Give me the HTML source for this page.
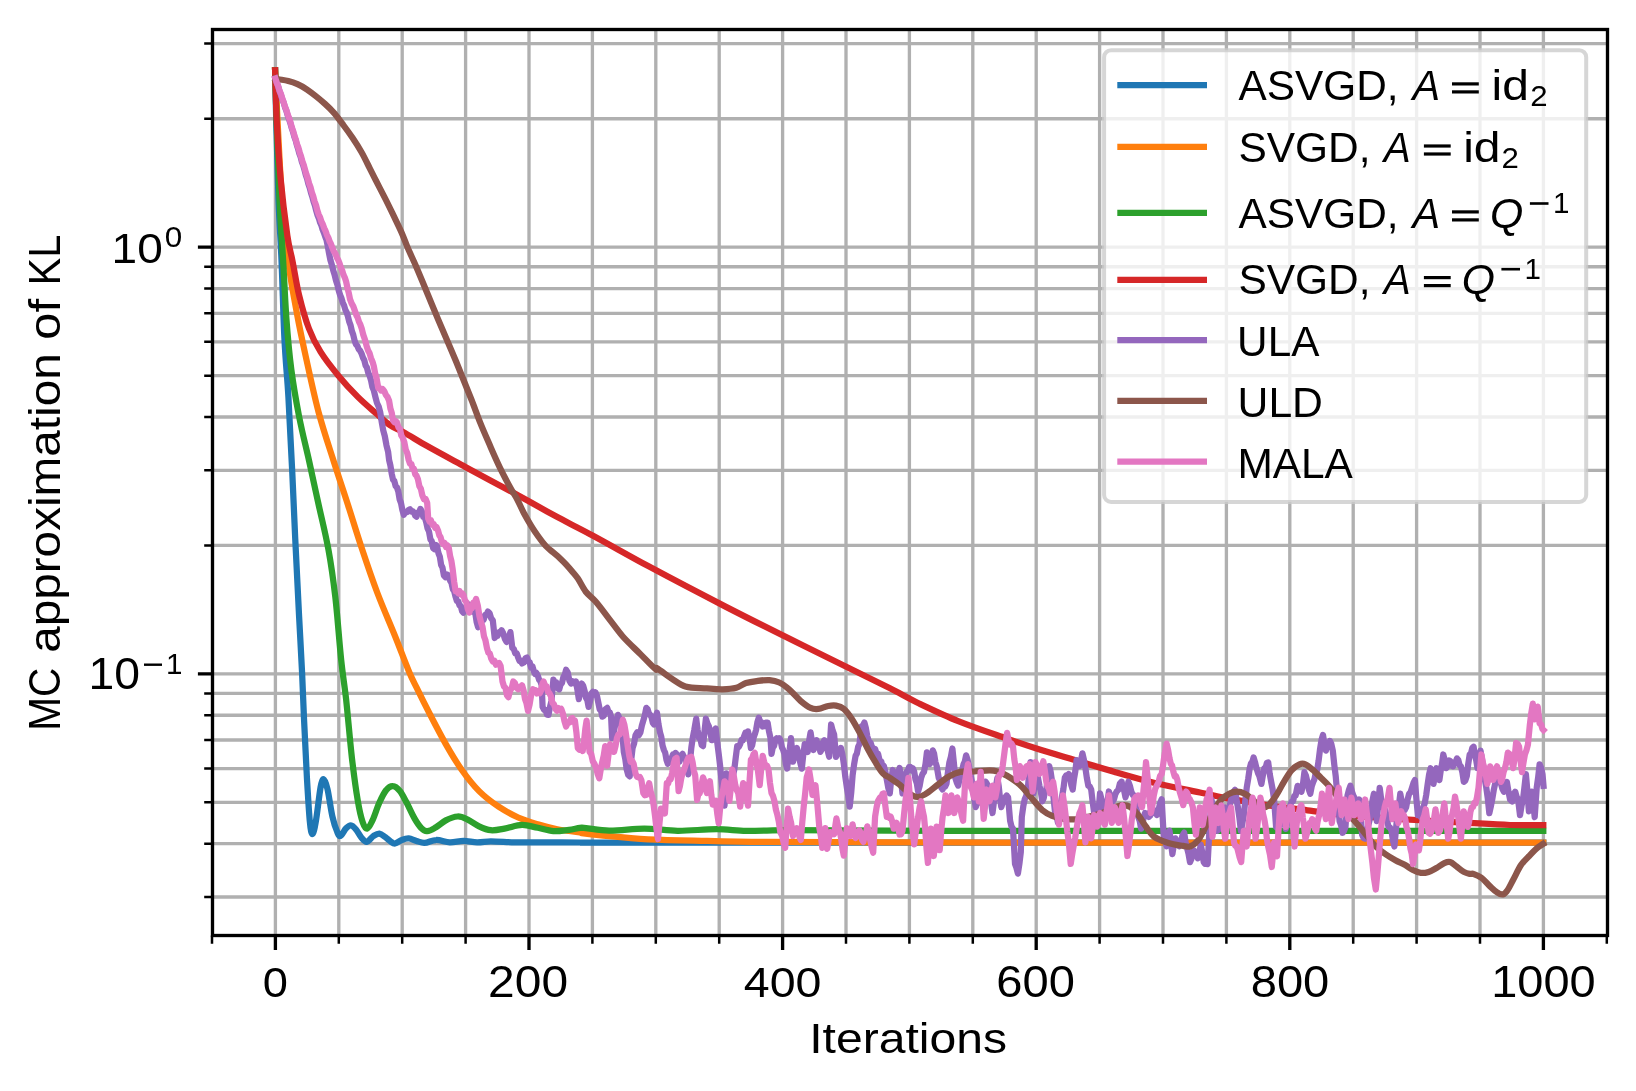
<!DOCTYPE html>
<html><head><meta charset="utf-8"><title>KL convergence</title>
<style>html,body{margin:0;padding:0;background:#fff}svg{display:block;will-change:transform}text{font-family:"Liberation Sans",sans-serif;fill:#000}</style></head><body>
<svg width="1636" height="1091" viewBox="0 0 1636 1091">
<rect width="1636" height="1091" fill="#fff"/>
<clipPath id="ax"><rect x="212.5" y="29.5" width="1395.0" height="906.0"/></clipPath>
<path d="M275.40 29.5V935.5M338.80 29.5V935.5M402.20 29.5V935.5M465.60 29.5V935.5M529.00 29.5V935.5M592.40 29.5V935.5M655.80 29.5V935.5M719.20 29.5V935.5M782.60 29.5V935.5M846.00 29.5V935.5M909.40 29.5V935.5M972.80 29.5V935.5M1036.20 29.5V935.5M1099.60 29.5V935.5M1163.00 29.5V935.5M1226.40 29.5V935.5M1289.80 29.5V935.5M1353.20 29.5V935.5M1416.60 29.5V935.5M1480.00 29.5V935.5M1543.40 29.5V935.5M212.5 43.61H1607.5M212.5 118.75H1607.5M212.5 247.20H1607.5M212.5 266.72H1607.5M212.5 288.55H1607.5M212.5 313.30H1607.5M212.5 341.86H1607.5M212.5 375.65H1607.5M212.5 417.00H1607.5M212.5 470.31H1607.5M212.5 545.45H1607.5M212.5 673.90H1607.5M212.5 693.42H1607.5M212.5 715.25H1607.5M212.5 740.00H1607.5M212.5 768.56H1607.5M212.5 802.35H1607.5M212.5 843.70H1607.5M212.5 897.01H1607.5" stroke="#b0b0b0" stroke-width="3.33" fill="none"/>
<g clip-path="url(#ax)" fill="none" stroke-width="6.25" stroke-linejoin="round" stroke-linecap="square">
<path d="M275.1 70.3C275.5 86.9 275.8 106.0 276.2 120.0C277.0 149.2 277.7 179.7 278.5 200.0C279.5 226.4 280.5 236.6 281.5 260.0C282.5 282.6 283.4 319.0 284.4 338.2C285.7 364.7 287.1 374.1 288.4 396.9C289.7 419.1 291.0 446.0 292.3 473.0C293.3 493.1 294.2 517.8 295.2 538.2C296.5 565.6 297.8 591.1 299.1 616.5C300.1 636.0 301.1 652.2 302.1 673.0C302.7 686.2 303.4 705.0 304.0 718.7C305.0 739.8 306.0 760.1 306.9 777.4C307.9 794.6 308.9 812.2 309.9 822.3C310.7 831.1 311.6 834.1 312.4 834.1C313.5 834.1 314.6 828.7 315.7 822.3C317.4 813.0 319.0 796.1 320.6 787.1C321.6 781.8 322.6 779.0 323.6 779.3C324.9 779.7 326.2 783.6 327.5 789.1C329.1 796.0 330.7 809.3 332.4 816.5C334.0 823.7 335.6 828.1 337.3 832.1C338.2 834.6 339.2 836.5 340.2 836.0C342.2 835.2 344.1 830.2 346.1 828.2C347.7 826.6 349.3 825.1 351.0 825.3C352.6 825.4 354.2 827.3 355.8 829.2C357.8 831.5 359.8 835.7 361.7 838.0C363.3 839.9 365.0 842.2 366.6 841.9C368.9 841.5 371.2 837.5 373.4 836.0C375.4 834.8 377.4 833.5 379.3 833.7C381.3 833.9 383.2 835.6 385.2 837.0C387.1 838.4 389.1 840.6 391.1 841.9C392.4 842.8 393.7 843.7 395.0 843.5C397.2 843.1 399.5 840.8 401.8 840.0C404.1 839.1 406.4 838.2 408.7 838.4C411.3 838.6 413.9 840.2 416.5 840.9C419.1 841.7 421.7 843.0 424.3 842.9C428.2 842.7 432.1 840.0 436.0 840.0C440.6 839.8 445.2 842.1 449.7 842.3C454.3 842.5 458.9 840.9 463.4 840.9C468.0 840.9 472.6 842.2 477.1 842.3C481.7 842.4 486.2 841.3 490.8 841.3C498.6 841.3 506.5 842.2 514.3 842.3C536.2 842.6 558.1 842.4 580.0 842.5C620.0 842.6 660.0 842.7 700.0 842.7C981.1 842.8 1262.2 842.7 1543.3 842.7" stroke="#1f77b4"/>
<path d="M275.1 70.3C275.9 86.9 276.7 105.0 277.5 120.0C279.0 148.2 280.5 180.0 282.0 200.0C284.0 226.7 286.0 244.9 288.0 260.0C291.1 283.2 294.1 298.3 297.2 314.8C300.4 332.2 303.7 347.0 306.9 361.7C310.8 379.6 314.8 398.0 318.7 412.6C323.6 430.7 328.4 444.7 333.3 460.0C338.2 475.5 343.1 489.8 348.0 505.0C352.6 519.2 357.1 534.3 361.7 548.0C366.9 563.7 372.2 579.2 377.4 593.0C383.3 608.5 389.1 621.4 395.0 636.0C399.9 648.1 404.7 661.4 409.6 673.0C411.9 678.5 414.2 682.7 416.5 687.4C421.0 696.7 425.6 705.9 430.2 714.8C435.4 724.9 440.6 735.0 445.8 744.1C451.0 753.2 456.3 762.2 461.5 769.5C467.3 777.8 473.2 785.2 479.1 791.1C485.6 797.6 492.1 802.3 498.6 806.7C505.2 811.1 511.7 814.5 518.2 817.5C524.7 820.4 531.2 822.3 537.8 824.3C544.3 826.3 550.8 827.9 557.3 829.2C564.9 830.7 572.4 831.3 580.0 832.5C580.6 832.6 581.2 833.0 581.7 833.1C590.9 834.3 600.0 835.4 609.1 836.2C622.2 837.5 635.2 838.7 648.2 839.4C667.8 840.3 687.4 840.5 706.9 840.9C726.5 841.4 746.0 841.8 765.6 841.9C807.1 842.2 848.5 842.2 890.0 842.3C926.7 842.4 963.3 842.5 1000.0 842.5C1181.1 842.6 1362.2 842.6 1543.3 842.6" stroke="#ff7f0e"/>
<path d="M275.1 70.3C275.6 86.9 276.1 105.3 276.6 120.0C277.6 148.5 278.5 179.2 279.5 200.0C280.7 225.8 281.9 239.4 283.1 260.0C284.2 278.9 285.3 304.0 286.4 318.7C288.0 340.5 289.7 356.9 291.3 369.5C293.9 389.5 296.5 403.1 299.1 416.5C302.4 433.3 305.6 445.3 308.9 460.0C312.2 474.8 315.4 490.0 318.7 505.0C322.0 520.0 325.2 531.9 328.5 550.0C330.8 562.5 333.0 577.3 335.3 596.9C337.3 613.9 339.2 641.3 341.2 660.0C342.8 675.4 344.4 684.3 346.1 699.1C348.0 716.9 350.0 740.8 351.9 757.8C353.9 774.8 355.8 789.1 357.8 800.8C359.4 810.6 361.1 817.5 362.7 822.3C364.2 826.8 365.7 828.9 367.2 828.6C368.9 828.3 370.7 824.1 372.5 820.4C374.8 815.5 377.0 807.8 379.3 802.8C381.6 797.7 383.9 792.8 386.2 790.1C388.4 787.3 390.7 786.0 393.0 786.2C395.3 786.3 397.6 788.3 399.9 791.1C402.1 793.8 404.4 798.5 406.7 802.8C409.3 807.7 411.9 813.9 414.5 818.4C416.8 822.4 419.1 825.9 421.4 828.2C423.3 830.2 425.3 831.3 427.2 831.1C430.2 831.0 433.1 828.9 436.0 827.2C439.3 825.3 442.6 822.0 445.8 820.4C449.7 818.4 453.6 816.7 457.6 816.5C460.8 816.3 464.1 817.9 467.3 819.4C471.2 821.2 475.2 824.5 479.1 826.3C483.0 828.1 486.9 829.8 490.8 830.2C495.4 830.6 499.9 829.4 504.5 828.6C510.4 827.6 516.2 825.0 522.1 824.9C527.3 824.8 532.5 826.8 537.8 827.8C543.0 828.9 548.2 830.8 553.4 831.1C558.6 831.5 563.8 830.4 569.0 829.8C572.7 829.3 576.3 828.4 580.0 827.8C580.6 827.7 581.2 827.6 581.7 827.6C590.9 828.5 600.0 830.4 609.1 830.6C620.9 830.7 632.6 828.6 644.3 828.6C655.4 828.6 666.5 830.7 677.6 830.8C690.6 830.9 703.7 829.2 716.7 829.2C726.5 829.2 736.3 830.6 746.0 830.8C759.1 830.9 772.1 830.2 785.2 830.2C820.1 830.1 855.1 830.4 890.0 830.6C926.7 830.7 963.3 830.9 1000.0 830.9C1181.1 831.0 1362.2 830.8 1543.3 830.8" stroke="#2ca02c"/>
<path d="M275.1 70.3C275.6 86.4 276.1 108.8 276.6 118.7C277.9 144.5 279.2 163.3 280.5 177.4C282.8 202.4 285.1 219.9 287.4 236.0C289.0 247.4 290.7 251.7 292.3 260.0C294.6 271.5 296.8 285.8 299.1 295.2C302.4 308.7 305.6 319.9 308.9 328.5C312.8 338.8 316.7 345.7 320.6 351.9C326.5 361.3 332.3 368.3 338.2 375.4C344.7 383.3 351.3 390.4 357.8 396.9C364.3 403.4 370.9 408.8 377.4 414.5C381.6 418.2 385.8 422.3 390.0 425.2C394.2 428.1 398.4 429.2 402.6 431.6C410.6 436.1 418.7 441.3 426.7 445.8C439.6 453.1 452.5 459.9 465.4 466.9C473.9 471.5 482.4 476.1 490.9 480.7C500.1 485.6 509.2 490.4 518.4 495.4C522.0 497.4 525.7 499.5 529.3 501.5C537.9 506.3 546.4 511.1 555.0 515.8C560.0 518.5 565.0 521.1 570.0 523.7C577.5 527.6 585.1 531.4 592.6 535.5C611.1 545.5 629.7 556.2 648.2 566.1C674.3 580.1 700.4 593.7 726.5 607.1C752.6 620.5 778.6 633.4 804.7 646.3C833.1 660.4 861.6 674.1 890.0 688.3C899.7 693.2 909.4 698.8 919.1 703.5C932.2 709.7 945.2 715.9 958.2 721.1C974.5 727.6 990.8 733.0 1007.1 738.7C1016.9 742.1 1026.7 745.4 1036.5 748.5C1049.5 752.6 1062.6 756.3 1075.6 760.2C1088.6 764.1 1101.7 768.2 1114.7 771.9C1127.8 775.7 1140.8 779.5 1153.8 782.7C1169.2 786.4 1184.6 789.2 1200.0 792.5C1209.7 794.5 1219.4 796.7 1229.1 798.6C1242.2 801.0 1255.2 803.4 1268.2 805.4C1281.3 807.4 1294.3 808.7 1307.4 810.3C1320.4 811.9 1333.4 813.9 1346.5 815.2C1359.5 816.5 1372.6 817.2 1385.6 818.1C1398.6 819.0 1411.7 819.7 1424.7 820.5C1437.8 821.2 1450.8 821.9 1463.8 822.6C1479.2 823.4 1494.6 824.5 1510.0 825.0C1521.1 825.3 1532.2 825.0 1543.3 825.0" stroke="#d62728"/>
<path d="M275.4 78.5L276.8 82.8L278.1 86.4L279.5 91.0L280.8 94.5L282.2 99.1L283.6 102.5L284.9 107.0L286.3 110.6L287.6 115.1L289.0 119.0L290.3 122.9L291.6 127.7L292.9 131.5L294.2 136.3L295.5 139.8L296.8 144.7L298.0 148.5L299.3 153.4L300.6 156.8L301.9 161.9L303.2 165.4L304.5 170.0L305.8 175.0L307.1 178.8L308.4 184.0L309.7 187.7L311.0 192.7L312.3 196.8L313.6 201.8L314.9 205.6L316.2 210.7L317.5 215.0L318.8 218.2L320.1 222.5L321.4 225.4L322.6 229.6L323.9 232.7L325.2 236.6L326.5 240.0L327.8 246.4L329.1 253.7L330.4 260.0L331.8 264.7L333.2 270.3L334.6 274.7L336.0 280.5L337.4 284.8L338.8 290.7L340.2 295.2L341.5 298.3L342.8 302.7L344.1 305.5L345.4 310.0L346.7 312.5L348.0 316.7L349.3 321.9L350.6 325.4L351.9 331.2L353.2 334.6L354.5 340.1L355.8 344.1L357.3 345.8L358.8 349.4L360.2 350.8L361.7 353.9L363.0 357.8L364.3 360.3L365.6 365.5L366.9 367.5L368.2 372.8L369.5 375.4L371.0 380.2L372.4 387.0L373.9 390.7L375.4 396.9L377.0 403.0L378.7 406.6L380.3 412.6L381.8 422.5L383.2 430.2L384.8 436.1L386.5 445.4L388.1 451.7L389.1 460.0L390.4 465.4L391.7 473.6L393.0 479.6L394.3 481.0L395.6 485.9L396.9 487.4L398.3 491.4L399.7 499.7L401.0 503.0L402.4 510.2L403.8 514.8L405.4 511.9L407.0 512.1L408.7 509.9L410.0 509.2L411.3 511.6L412.6 511.2L413.9 512.3L415.2 515.6L416.5 516.7L417.8 512.6L419.1 512.3L420.4 508.9L421.9 511.4L423.3 516.9L424.8 517.4L426.3 522.6L427.6 528.5L429.0 531.5L430.4 539.3L431.7 541.1L433.1 548.0L434.4 549.1L435.7 544.9L437.0 546.1L438.4 553.0L439.8 556.6L441.1 564.8L442.5 567.7L443.9 575.4L445.5 577.3L447.1 574.5L448.8 575.4L450.1 580.6L451.5 583.0L452.9 589.3L454.2 591.3L455.6 596.9L456.9 601.0L458.2 601.1L459.5 605.4L460.8 606.1L462.1 611.1L463.4 612.6L464.7 608.5L466.0 609.3L467.3 604.7L468.6 604.4L469.9 608.7L471.2 607.2L472.6 611.5L473.9 610.5L475.2 612.6L476.6 621.8L478.1 627.2L479.5 623.3L480.9 624.6L482.3 618.8L483.7 619.5L485.1 614.8L486.5 614.7L487.9 611.6L489.5 613.0L491.1 618.2L492.8 620.4L494.7 638.0L496.1 635.6L497.5 635.8L498.8 632.4L500.2 632.9L501.6 630.2L503.2 633.3L504.8 638.7L506.5 641.9L507.8 637.8L509.1 636.2L510.4 632.1L512.3 647.8L513.8 649.0L515.3 653.4L516.7 653.3L518.2 657.6L519.5 661.0L520.8 660.6L522.1 663.4L523.7 662.5L525.4 658.4L527.0 657.6L528.4 661.5L529.7 662.2L531.1 667.6L532.5 666.5L533.8 671.2L535.1 674.0L536.4 672.9L537.8 675.6L539.1 679.7L540.4 681.3L541.7 685.4L542.6 706.9L544.1 710.0L545.6 709.8L547.0 714.6L548.5 714.8L550.0 707.0L551.4 701.1L553.4 679.6L554.9 682.7L556.3 682.5L557.8 688.3L559.3 689.3L560.6 684.5L562.0 682.9L563.4 676.9L564.7 675.1L566.1 669.8L567.7 672.4L569.4 680.7L571.0 683.5L572.6 681.2L574.2 683.2L575.9 681.5L577.3 689.1L578.8 699.1L580.3 692.2L581.7 683.5L583.2 685.7L584.7 691.3L586.0 697.9L587.3 700.0L588.6 706.9L590.0 701.2L591.5 693.3L592.8 691.9L594.1 694.4L595.4 692.3L596.9 695.7L598.4 703.0L599.7 709.4L601.0 710.4L602.3 716.7L603.9 715.6L605.5 709.2L607.2 707.9L608.5 711.9L609.8 712.4L611.1 716.7L612.1 738.2L613.5 733.5L615.0 725.8L616.5 721.4L617.9 714.8L619.2 717.6L620.5 723.6L621.8 726.5L623.8 751.9L625.3 759.1L626.7 769.5L628.2 774.9L629.7 776.4L631.1 760.9L632.6 748.0L634.1 743.6L635.5 735.3L637.2 732.3L638.8 735.3L640.4 732.4L641.9 725.3L643.3 720.6L644.8 715.3L646.3 707.9L647.6 709.2L648.9 713.4L650.2 714.8L651.5 717.1L652.8 722.8L654.1 724.5L655.6 716.8L657.0 712.8L658.5 724.4L660.0 732.4L661.3 736.9L662.6 745.7L663.9 750.0L665.2 752.8L666.5 759.9L667.8 763.7L669.1 760.2L670.4 761.6L671.7 757.8L673.0 754.5L674.3 756.2L675.6 752.9L676.9 754.5L678.2 759.7L679.5 761.7L681.0 756.1L682.5 753.9L683.9 757.0L685.4 757.8L686.9 764.4L688.3 774.4L689.8 763.2L691.3 748.0L692.7 738.0L694.2 730.4L696.2 718.7L697.6 729.7L699.1 738.2L700.4 738.9L701.7 745.1L703.0 746.1L704.5 731.5L705.9 718.7L707.4 723.5L708.9 726.5L710.3 732.5L711.8 740.2L713.1 738.2L714.4 730.6L715.7 728.5L717.2 742.1L718.7 753.9L720.1 765.8L721.6 781.3L723.1 795.5L724.5 805.7L726.5 773.4L727.8 775.8L729.1 782.4L730.4 785.2L731.7 778.6L733.0 775.6L734.3 769.5L735.8 757.1L737.2 746.1L738.7 747.0L740.2 744.1L741.5 740.0L742.8 740.3L744.1 736.3L745.4 732.7L746.7 734.3L748.0 731.4L749.5 737.9L750.9 748.0L752.2 745.2L753.5 737.9L754.8 734.3L756.1 729.8L757.4 722.2L758.8 717.7L760.1 721.6L761.4 722.1L762.7 726.5L764.3 726.2L765.9 722.7L767.6 722.6L769.0 731.3L770.5 738.2L771.5 753.9L772.8 747.4L774.1 745.9L775.4 740.2L776.7 738.2L778.0 740.3L779.3 738.2L780.6 740.3L781.9 747.3L783.2 750.0L784.5 754.3L785.8 763.7L787.1 768.6L788.4 757.1L789.7 749.7L791.0 738.2L793.0 761.7L794.3 756.4L795.6 753.9L796.9 748.0L798.5 753.9L800.2 762.4L801.8 768.6L803.3 754.6L804.7 744.1L806.2 748.9L807.7 751.9L809.1 740.8L810.6 732.4L812.1 742.8L813.5 750.0L815.0 743.7L816.5 740.2L817.8 745.2L819.1 746.6L820.4 751.9L821.7 749.4L823.0 742.4L824.3 740.2L825.9 746.6L827.5 749.9L829.2 756.8L831.1 724.5L832.6 730.5L834.1 734.3L836.0 756.8L837.6 752.8L839.3 752.7L840.9 748.0L842.4 754.5L843.8 763.7L845.3 776.8L846.8 787.1L848.2 795.2L849.7 806.7L851.2 792.9L852.6 775.4L854.1 764.3L855.6 755.8L856.9 753.4L858.2 746.7L859.5 744.1L861.4 726.5L862.9 725.9L864.4 722.6L865.8 727.8L867.3 736.3L868.9 741.5L870.6 742.7L872.2 748.0L873.7 750.8L875.1 749.0L876.6 754.0L878.1 753.9L880.0 762.2L881.3 761.6L882.6 766.7L883.9 766.1L885.4 771.9L886.8 779.8L888.3 788.0L889.8 793.4L891.2 779.8L892.7 770.0L894.2 775.7L895.6 777.8L897.0 773.7L898.3 772.1L899.6 768.0L901.0 779.5L902.5 793.4L903.8 787.1L905.1 778.1L906.4 771.9L907.7 771.1L909.0 767.1L910.3 767.0L911.6 770.4L912.9 768.4L914.2 771.9L915.5 779.4L916.8 783.3L918.1 791.5L919.6 786.2L921.1 777.8L922.5 774.0L924.0 771.9L925.5 764.0L926.9 752.4L928.4 756.3L929.9 764.1L931.3 758.2L932.8 750.4L934.1 753.7L935.4 762.1L936.7 766.1L938.7 777.8L940.0 780.4L941.3 787.6L942.6 789.5L943.9 785.8L945.2 786.5L946.5 783.7L948.0 771.6L949.4 762.2L950.9 756.7L952.4 748.5L953.8 762.0L955.3 777.8L956.8 782.7L958.2 785.6L959.5 779.3L960.8 776.8L962.2 770.0L963.5 764.4L964.8 761.6L966.1 755.3L967.5 759.4L969.0 766.1L970.5 774.6L971.9 781.7L973.2 789.1L974.5 800.2L975.8 807.1L977.1 801.9L978.5 800.1L979.8 795.4L981.2 798.3L982.7 805.2L984.2 795.2L985.6 781.7L986.9 783.7L988.2 790.4L989.5 793.4L991.0 802.2L992.5 813.0L993.9 802.0L995.4 789.5L997.4 777.8L998.7 785.9L1000.0 798.4L1001.3 807.1L1002.6 803.0L1003.9 801.9L1005.2 797.4L1006.7 795.5L1008.1 797.4L1010.1 820.8L1011.5 826.5L1013.0 828.7L1015.0 863.9L1016.4 867.7L1017.9 873.6L1019.4 863.8L1020.8 852.1L1021.8 816.9L1023.3 806.2L1024.7 799.3L1026.2 795.9L1027.7 789.5L1029.1 774.2L1030.6 762.2L1032.1 778.6L1033.5 793.4L1035.0 779.0L1036.5 766.1L1037.9 777.4L1039.4 785.6L1040.9 792.2L1042.3 801.3L1043.7 798.2L1045.0 791.5L1046.3 789.5L1047.7 779.3L1049.2 766.1L1050.7 772.1L1052.1 781.7L1053.6 798.2L1055.1 813.0L1056.5 816.1L1058.0 822.8L1059.3 815.1L1060.6 804.0L1061.9 797.4L1063.4 788.9L1064.8 777.8L1066.1 775.4L1067.4 776.6L1068.8 773.9L1070.1 777.2L1071.4 785.4L1072.7 789.5L1074.0 778.9L1075.3 771.4L1076.6 760.2L1078.0 762.1L1079.5 766.1L1081.0 760.5L1082.4 753.3L1083.9 759.8L1085.4 768.0L1086.8 777.6L1088.3 785.6L1089.8 786.6L1091.2 789.5L1092.7 802.4L1094.2 813.0L1095.6 817.8L1097.1 824.7L1098.6 810.8L1100.0 793.4L1101.5 799.2L1103.0 807.1L1104.4 812.4L1105.9 815.0L1107.4 802.3L1108.9 791.5L1110.2 795.9L1111.5 797.3L1112.8 801.3L1114.1 799.0L1115.4 794.0L1116.7 791.5L1118.3 789.9L1119.9 783.6L1121.6 781.7L1122.9 787.9L1124.2 790.8L1125.5 797.4L1126.9 791.5L1128.4 781.7L1129.9 785.8L1131.3 791.5L1132.8 795.2L1134.3 795.4L1135.6 801.3L1136.9 811.1L1138.2 816.9L1139.7 821.0L1141.1 828.7L1142.4 824.7L1143.7 816.9L1145.0 813.0L1146.3 815.9L1147.6 813.6L1148.9 816.9L1150.3 815.5L1151.6 809.9L1152.9 809.1L1154.2 812.7L1155.5 811.5L1156.8 815.0L1158.4 811.0L1160.0 803.4L1161.7 799.3L1163.6 834.5L1165.1 841.2L1166.6 846.3L1168.0 837.6L1169.5 830.6L1171.0 843.1L1172.4 854.1L1173.9 844.6L1175.4 838.4L1176.7 842.1L1178.0 842.7L1179.3 846.3L1180.9 842.5L1182.5 835.3L1184.2 832.6L1185.6 842.2L1187.1 848.2L1188.5 853.6L1190.0 862.1L1191.3 859.3L1192.6 853.3L1193.9 850.4L1195.2 854.1L1196.5 854.3L1197.8 858.2L1199.3 852.3L1200.8 844.5L1202.2 852.0L1203.7 862.1L1205.0 863.8L1206.3 861.5L1207.6 864.1L1209.6 826.9L1211.5 799.5L1213.0 807.4L1214.4 811.3L1215.9 819.6L1217.4 830.8L1218.7 829.2L1220.0 823.7L1221.3 823.0L1222.8 816.3L1224.2 807.4L1225.5 808.8L1226.8 813.3L1228.1 815.2L1229.6 806.2L1231.1 799.5L1232.4 797.6L1233.7 791.7L1235.0 789.8L1236.5 799.5L1237.9 807.4L1239.4 817.7L1240.9 830.8L1242.3 823.7L1243.8 815.2L1245.3 800.4L1246.7 787.8L1248.2 778.8L1249.7 768.2L1251.0 763.4L1252.3 761.8L1253.6 757.5L1255.0 762.1L1256.5 768.2L1258.0 773.2L1259.4 776.1L1261.4 783.9L1262.9 775.1L1264.3 768.2L1265.6 767.7L1266.9 762.9L1268.2 762.4L1269.7 773.8L1271.2 781.9L1272.6 789.2L1274.1 799.5L1276.1 826.9L1277.4 827.9L1278.7 823.8L1280.0 825.0L1281.4 817.4L1282.9 807.4L1284.4 817.0L1285.8 828.9L1287.3 822.1L1288.8 811.3L1290.2 805.5L1291.7 801.5L1293.0 801.2L1294.3 796.0L1295.6 795.6L1297.6 785.8L1298.9 788.6L1300.2 788.0L1301.5 791.7L1303.0 783.8L1304.4 772.2L1305.9 775.5L1307.4 781.9L1308.8 789.5L1310.3 793.7L1311.8 786.0L1313.2 781.9L1314.5 778.9L1315.8 772.7L1317.1 770.2L1318.6 760.8L1320.1 748.7L1321.5 740.0L1323.0 735.0L1324.5 744.6L1325.9 750.6L1327.2 745.6L1328.5 745.6L1329.9 740.9L1331.3 743.9L1332.8 750.6L1334.3 764.9L1335.7 776.1L1337.7 799.5L1339.6 821.1L1341.1 825.3L1342.6 832.8L1344.0 830.9L1345.5 826.9L1347.5 795.6L1348.9 790.0L1350.4 785.8L1351.9 791.6L1353.3 795.6L1354.8 798.4L1356.3 803.4L1357.7 802.3L1359.2 799.5L1360.7 815.4L1362.1 834.7L1363.6 838.1L1365.1 838.7L1366.5 831.3L1368.0 826.9L1369.5 820.6L1370.9 811.3L1372.4 800.9L1373.9 793.7L1375.3 808.7L1376.8 821.1L1378.3 803.7L1379.7 787.8L1381.2 799.3L1382.7 807.4L1384.1 807.6L1385.6 811.3L1387.1 820.4L1388.5 826.9L1390.0 827.5L1391.5 830.8L1392.9 840.2L1394.4 846.5L1395.9 830.0L1397.3 815.2L1398.8 806.1L1400.3 793.7L1401.7 801.4L1403.2 811.3L1404.7 810.1L1406.1 807.4L1407.6 799.5L1409.1 793.7L1410.5 792.4L1412.0 787.8L1413.5 782.9L1414.9 780.0L1416.4 799.2L1417.9 815.2L1419.3 814.2L1420.8 817.1L1422.1 813.9L1423.4 806.8L1424.7 803.4L1426.2 795.0L1427.7 783.9L1429.1 774.5L1430.6 768.2L1432.1 777.8L1433.5 783.9L1435.0 774.6L1436.5 768.2L1437.9 775.6L1439.4 780.0L1440.7 770.7L1442.0 763.9L1443.3 754.5L1444.8 760.4L1446.2 768.2L1447.7 766.0L1449.2 760.4L1450.5 761.3L1451.8 765.8L1453.1 766.3L1454.4 763.0L1455.7 761.8L1457.0 758.5L1458.3 760.0L1459.6 765.2L1460.9 766.3L1462.4 772.5L1463.8 781.9L1465.3 780.6L1466.8 776.1L1468.2 764.2L1469.7 754.5L1471.0 753.3L1472.3 748.0L1473.6 746.7L1474.9 755.2L1476.2 760.2L1477.5 768.2L1479.0 761.3L1480.5 750.6L1481.9 758.5L1483.4 768.2L1484.9 780.0L1486.3 787.8L1487.8 798.6L1489.3 813.2L1490.7 807.1L1492.2 799.5L1493.7 790.4L1495.1 783.9L1496.6 779.8L1498.1 772.2L1499.5 776.1L1501.0 783.9L1502.5 789.1L1503.9 791.7L1505.4 785.8L1506.9 781.9L1508.5 791.7L1510.1 799.5L1512.2 801.5L1513.7 794.7L1515.2 791.7L1516.6 796.6L1518.1 799.5L1520.0 815.2L1521.5 805.9L1523.0 799.5L1524.4 787.7L1525.9 774.1L1527.4 791.3L1528.9 811.3L1530.3 803.4L1531.8 791.7L1533.3 803.6L1534.7 817.1L1536.7 787.8L1538.1 777.8L1539.6 764.3L1541.1 767.9L1542.5 774.1L1543.5 785.8" stroke="#9467bd"/>
<path d="M275.4 78.5C276.4 78.7 277.3 79.0 278.3 79.2C281.6 79.8 285.0 80.1 288.3 81.0C291.4 81.8 294.4 82.8 297.5 84.2C300.6 85.6 303.6 87.3 306.7 89.3C309.7 91.3 312.8 93.7 315.8 96.1C318.9 98.5 321.9 101.1 325.0 103.9C328.1 106.7 331.1 109.6 334.2 113.1C337.2 116.6 340.3 120.9 343.3 125.0C346.4 129.1 349.4 133.2 352.5 137.8C355.6 142.4 358.6 147.1 361.7 152.5C364.4 157.3 367.2 163.2 369.9 168.6C371.9 172.5 373.8 176.5 375.8 180.3C378.9 186.3 381.9 192.0 385.0 198.1C388.1 204.2 391.1 210.5 394.2 216.9C396.9 222.6 399.7 228.2 402.4 234.4C404.1 238.3 405.8 243.3 407.5 247.3C410.3 253.9 413.2 259.7 416.0 266.2C417.9 270.6 419.9 275.4 421.8 280.0C426.9 292.2 431.9 304.7 437.0 316.7C443.4 331.9 449.8 346.3 456.2 361.7C461.3 374.1 466.5 387.0 471.6 400.0C474.5 407.4 477.4 415.7 480.3 422.9C483.8 431.6 487.4 439.6 490.9 447.7C493.9 454.6 497.0 461.6 500.0 467.8C503.5 475.0 507.0 481.6 510.5 488.0C512.8 492.3 515.2 495.6 517.5 500.0C519.6 503.9 521.7 509.0 523.8 513.0C526.3 517.6 528.7 521.8 531.2 525.8C533.6 529.7 536.1 533.4 538.5 536.8C540.9 540.2 543.4 543.4 545.8 546.0C548.3 548.6 550.7 550.3 553.2 552.4C555.3 554.2 557.5 555.9 559.6 557.9C561.7 559.9 563.9 562.0 566.0 564.3C568.1 566.6 570.3 569.1 572.4 571.7C574.2 573.9 576.1 575.9 577.9 578.6C580.5 582.5 583.1 588.2 585.6 591.5C588.9 595.7 592.2 597.5 595.4 601.3C600.0 606.6 604.6 613.0 609.1 618.9C613.7 624.7 618.2 631.3 622.8 636.5C628.7 643.1 634.5 648.2 640.4 654.1C645.6 659.3 650.8 665.2 656.1 669.7C656.1 669.7 656.1 667.8 656.1 667.8C661.3 670.8 666.5 675.3 671.7 678.6C676.3 681.5 680.8 685.1 685.4 686.4C692.6 688.4 699.7 687.8 706.9 688.4C712.1 688.8 717.4 689.4 722.6 689.3C727.1 689.2 731.7 689.0 736.3 687.8C739.5 686.9 742.8 684.1 746.0 683.1C750.0 681.8 753.9 681.4 757.8 680.9C761.7 680.4 765.6 679.9 769.5 680.1C772.8 680.4 776.0 681.0 779.3 682.5C782.6 684.0 785.8 686.5 789.1 689.3C793.0 692.7 796.9 697.7 800.8 701.1C804.1 703.9 807.3 706.5 810.6 707.9C813.2 709.1 815.8 709.2 818.4 708.9C821.7 708.5 824.9 706.6 828.2 706.0C830.8 705.5 833.4 705.1 836.0 705.6C838.6 706.1 841.2 706.7 843.8 708.9C846.4 711.1 849.1 714.8 851.7 718.7C854.3 722.6 856.9 727.5 859.5 732.4C862.1 737.3 864.7 743.1 867.3 748.0C869.9 752.9 872.5 757.5 875.1 761.7C877.7 765.9 880.4 770.6 883.0 773.4C885.2 775.9 887.5 776.3 889.8 777.8C893.0 780.0 896.3 782.0 899.6 784.6C902.8 787.3 906.1 791.2 909.3 793.4C911.9 795.3 914.6 796.8 917.2 797.0C919.8 797.1 922.4 795.9 925.0 794.4C928.9 792.2 932.8 788.6 936.7 785.6C940.6 782.7 944.5 779.1 948.5 776.8C952.4 774.5 956.3 772.7 960.2 771.9C964.8 771.0 969.3 771.8 973.9 771.5C979.1 771.3 984.3 770.4 989.5 770.4C992.1 770.4 994.8 770.7 997.4 771.5C1000.6 772.6 1003.9 773.9 1007.1 775.8C1011.7 778.6 1016.3 781.4 1020.8 785.6C1024.7 789.2 1028.7 794.9 1032.6 799.3C1035.8 803.0 1039.1 807.3 1042.3 810.1C1045.6 812.8 1048.9 814.6 1052.1 815.9C1056.0 817.5 1060.0 818.3 1063.9 818.9C1067.8 819.4 1071.7 819.6 1075.6 819.3C1079.5 818.9 1083.4 817.8 1087.3 816.9C1091.2 816.0 1095.2 815.3 1099.1 814.0C1103.0 812.7 1106.9 810.6 1110.8 809.1C1114.7 807.6 1118.6 805.6 1122.5 805.2C1125.2 804.9 1127.8 805.5 1130.4 807.1C1133.0 808.8 1135.6 811.7 1138.2 815.0C1140.8 818.2 1143.4 823.1 1146.0 826.7C1148.6 830.3 1151.2 834.3 1153.8 836.5C1157.1 839.2 1160.4 840.1 1163.6 841.4C1166.9 842.7 1170.1 843.6 1173.4 844.3C1176.7 845.1 1179.9 845.4 1183.2 845.9C1185.5 846.2 1187.7 847.3 1190.0 846.5C1192.6 845.5 1195.2 843.9 1197.8 840.6C1200.4 837.4 1203.0 831.8 1205.6 826.9C1208.3 822.0 1210.9 815.8 1213.5 811.3C1216.1 806.7 1218.7 802.5 1221.3 799.5C1223.9 796.6 1226.5 795.0 1229.1 793.7C1231.7 792.4 1234.3 791.7 1236.9 791.7C1239.6 791.7 1242.2 792.4 1244.8 793.7C1247.4 795.0 1250.0 797.3 1252.6 799.5C1255.2 801.8 1257.8 806.4 1260.4 807.4C1263.0 808.3 1265.6 807.4 1268.2 805.4C1270.8 803.4 1273.5 799.5 1276.1 795.6C1278.7 791.7 1281.3 786.2 1283.9 781.9C1286.5 777.7 1289.1 773.1 1291.7 770.2C1294.3 767.3 1296.9 765.4 1299.5 764.3C1301.5 763.5 1303.4 763.5 1305.4 764.3C1308.0 765.4 1310.6 767.9 1313.2 770.2C1315.8 772.5 1318.4 775.4 1321.1 778.0C1323.7 780.6 1326.3 782.9 1328.9 785.8C1331.5 788.8 1334.1 791.9 1336.7 795.6C1340.0 800.3 1343.2 806.7 1346.5 811.3C1349.7 815.8 1353.0 819.1 1356.3 823.0C1359.5 826.9 1362.8 830.8 1366.0 834.7C1369.3 838.7 1372.6 843.2 1375.8 846.5C1379.1 849.7 1382.3 852.0 1385.6 854.3C1388.9 856.6 1392.1 858.4 1395.4 860.2C1398.6 862.0 1401.9 863.3 1405.2 865.1C1407.8 866.5 1410.4 868.6 1413.0 870.0C1415.6 871.3 1418.2 872.6 1420.8 872.9C1423.4 873.2 1426.0 872.7 1428.6 871.9C1431.2 871.1 1433.8 869.5 1436.5 868.0C1439.1 866.5 1441.7 864.2 1444.3 863.1C1446.2 862.3 1448.2 861.6 1450.1 862.1C1452.1 862.6 1454.1 864.6 1456.0 866.0C1458.6 867.9 1461.2 870.4 1463.8 871.9C1465.8 873.0 1467.8 873.5 1469.7 873.9C1471.0 874.1 1472.3 873.4 1473.6 873.9C1476.2 874.7 1478.8 875.8 1481.4 877.8C1484.1 879.7 1486.7 883.2 1489.3 885.6C1491.9 888.0 1494.5 890.8 1497.1 892.4C1499.0 893.7 1501.0 894.8 1503.0 894.4C1504.4 894.1 1505.9 892.6 1507.3 890.5C1509.3 887.7 1511.2 883.4 1513.2 879.7C1515.8 874.9 1518.4 869.0 1521.0 865.1C1523.6 861.1 1526.2 859.0 1528.9 856.3C1531.5 853.5 1534.1 850.7 1536.7 848.4C1538.8 846.6 1541.0 845.4 1543.1 843.9" stroke="#8c564b"/>
<path d="M275.4 78.5L276.8 82.8L278.2 86.1L279.6 91.0L281.0 94.1L282.4 98.8L283.7 102.4L285.1 106.9L286.5 110.4L287.9 115.1L289.3 118.7L290.6 122.7L291.9 127.5L293.2 131.2L294.5 135.9L295.8 139.6L297.1 144.5L298.5 148.0L299.8 152.7L301.1 156.5L302.4 161.3L303.7 164.8L305.0 169.5L306.4 174.4L307.7 178.1L309.1 183.4L310.5 187.1L311.9 192.5L313.2 196.1L314.6 201.3L316.0 205.0L317.3 210.3L318.7 214.5L320.1 217.4L321.4 221.5L322.8 224.2L324.2 228.1L325.5 230.8L326.9 234.8L328.3 237.6L329.7 241.6L331.0 244.0L332.4 247.8L333.8 251.4L335.3 253.5L336.8 257.4L338.2 260.0L339.5 263.1L340.8 267.4L342.1 270.2L343.5 274.8L344.8 277.6L346.1 281.5L347.4 287.7L348.7 292.7L350.0 299.1L351.6 303.4L353.3 306.4L354.9 310.9L356.3 315.1L357.6 317.4L359.0 321.9L360.3 324.4L361.7 328.5L363.3 334.9L365.0 339.7L366.6 346.1L368.1 350.5L369.6 353.3L371.0 358.2L372.5 361.7L373.8 366.1L375.1 373.3L376.4 377.4L378.3 388.1L379.8 388.1L381.2 390.6L382.7 389.1L384.2 391.1L385.8 394.8L387.5 397.0L389.1 400.8L390.4 408.5L391.7 412.6L393.0 420.4L394.3 422.1L395.6 421.0L396.9 422.3L398.4 427.2L399.9 428.7L401.3 435.5L402.8 438.0L404.3 442.1L405.8 449.8L407.2 453.0L408.7 460.0L410.0 463.6L411.3 463.8L412.6 468.6L413.9 468.7L415.2 474.4L416.5 475.6L417.9 479.1L419.4 486.3L420.9 488.9L422.3 495.2L424.0 499.2L425.6 499.0L427.2 503.0L428.2 518.7L429.6 521.5L431.0 520.4L432.4 524.9L433.8 524.3L435.2 528.0L436.6 527.1L438.0 530.4L439.3 535.2L440.6 537.2L441.9 542.2L443.3 544.1L444.6 543.0L446.0 547.1L447.4 545.4L448.8 548.0L450.1 555.9L451.4 561.1L452.7 569.5L454.1 581.4L455.6 591.1L456.9 590.9L458.2 593.1L459.5 591.0L460.8 594.5L462.1 593.2L463.4 595.0L464.9 600.4L466.4 602.3L467.8 609.0L469.3 612.6L470.7 608.5L472.0 608.3L473.4 602.6L474.8 602.3L476.1 598.9L477.8 605.6L479.4 615.9L481.0 622.3L482.5 626.7L484.0 636.4L485.4 640.1L486.9 647.8L488.4 652.8L489.8 653.5L491.3 658.8L492.8 661.5L494.4 660.8L496.0 664.7L497.7 663.4L499.1 663.0L500.6 665.9L502.5 681.5L504.0 686.5L505.5 687.8L506.9 695.1L508.4 697.2L510.0 690.9L511.7 688.2L513.3 681.5L514.9 683.0L516.6 687.7L518.2 689.3L519.5 687.0L520.8 687.7L522.1 685.4L523.6 690.6L525.0 698.9L526.5 703.3L528.0 710.9L529.6 704.5L531.2 694.8L532.9 689.3L534.2 691.6L535.6 690.2L537.0 693.4L538.3 691.5L539.7 693.3L541.0 690.7L542.3 684.0L543.6 681.5L545.1 685.6L546.6 686.3L548.0 691.6L549.5 693.3L551.0 696.3L552.4 702.9L553.9 704.1L555.4 708.9L556.8 710.7L558.3 707.9L559.8 710.0L561.2 708.9L562.9 713.6L564.5 721.4L566.1 726.5L567.7 723.0L569.4 722.5L571.0 718.7L572.3 718.1L573.6 721.8L574.9 720.6L576.4 732.3L577.8 748.0L579.5 749.8L581.1 748.6L582.7 751.0L584.0 741.7L585.3 729.0L586.6 720.6L588.1 737.4L589.6 751.9L591.2 754.0L592.8 761.2L594.4 763.7L596.1 767.7L597.7 774.2L599.3 778.3L600.8 769.0L602.3 761.7L603.7 755.7L605.2 746.1L607.2 765.6L608.6 754.0L610.1 744.1L611.4 748.0L612.7 748.1L614.0 751.9L615.5 746.2L616.9 738.2L618.4 734.5L619.9 734.3L621.3 728.0L622.8 719.7L624.3 724.4L625.7 732.4L627.7 746.1L629.2 755.5L630.6 761.7L632.1 760.8L633.6 763.7L635.5 773.4L637.0 776.8L638.5 777.4L639.9 776.9L641.4 780.3L643.3 793.0L644.8 795.3L646.3 795.0L647.8 787.7L649.2 783.2L650.7 791.6L652.2 796.9L653.6 804.9L655.1 816.5L656.6 829.6L658.0 839.0L659.5 823.0L661.0 808.7L662.3 811.2L663.6 810.5L664.9 813.5L666.8 783.2L668.1 783.7L669.4 779.2L670.7 779.3L672.2 772.6L673.7 763.7L675.1 758.8L676.6 757.8L678.6 791.1L679.9 786.3L681.2 778.5L682.5 773.4L683.9 770.3L685.4 765.6L686.9 761.0L688.3 757.8L689.8 759.0L691.3 756.8L692.6 762.2L693.9 770.8L695.2 775.4L697.1 799.9L698.4 793.8L699.7 793.4L701.1 787.1L703.0 777.4L704.3 780.8L705.6 789.0L706.9 793.0L708.4 785.6L709.9 781.3L711.3 794.8L712.8 804.7L714.3 801.2L715.7 800.8L717.2 813.2L718.7 823.3L720.1 808.4L721.6 796.9L723.1 789.9L724.5 781.3L726.0 783.1L727.5 787.1L729.4 800.8L730.9 787.2L732.3 769.5L733.8 776.0L735.3 785.2L736.7 790.1L738.2 793.0L740.2 806.7L741.6 793.2L743.1 783.2L745.1 785.2L746.5 796.7L748.0 805.7L749.5 782.0L750.9 759.8L752.2 758.2L753.5 754.2L754.8 752.9L756.3 762.4L757.8 769.5L759.7 785.2L761.2 768.6L762.7 755.8L764.1 761.8L765.6 765.6L767.1 765.8L768.5 769.5L770.0 783.1L771.5 793.0L772.9 795.7L774.4 800.8L775.9 809.7L777.3 814.5L778.8 821.6L780.3 832.1L782.2 836.0L783.7 843.2L785.2 847.8L786.6 827.2L788.1 808.7L789.6 816.8L791.0 822.3L793.0 836.0L794.3 831.6L795.6 832.2L796.9 828.2L798.2 831.2L799.5 837.2L800.8 840.0L802.3 822.0L803.7 806.7L805.2 793.0L806.7 777.4L809.0 769.5L810.8 780.8L812.5 795.0L814.0 790.8L815.5 785.2L817.4 804.7L819.4 828.2L820.9 836.2L822.3 847.8L823.8 838.9L825.3 828.2L827.2 848.8L828.7 839.6L830.1 832.1L831.5 834.2L832.8 832.3L834.1 834.1L836.4 818.4L838.2 827.1L839.9 832.1L841.2 838.6L842.5 849.2L843.8 855.6L845.3 840.1L846.8 828.2L848.1 831.8L849.4 831.8L850.7 836.0L852.6 824.3L854.1 832.7L855.6 838.0L856.9 834.1L858.2 834.7L859.5 830.2L860.8 833.4L862.1 839.8L863.4 841.9L864.7 835.8L866.0 833.3L867.3 826.3L868.8 832.2L870.2 840.0L871.7 847.1L873.2 852.7L875.1 816.5L876.6 807.3L878.1 800.8L880.0 797.4L881.3 798.0L882.6 793.7L883.9 793.4L885.4 806.5L886.8 816.9L888.1 815.4L889.5 817.9L890.8 816.9L892.2 821.4L893.7 828.7L895.2 826.4L896.6 822.8L898.1 827.4L899.6 834.5L901.0 834.3L902.5 830.6L904.0 814.8L905.4 801.3L906.9 790.5L908.4 777.8L909.8 796.6L911.3 816.9L912.8 832.2L914.2 844.3L915.5 833.9L916.8 827.9L918.1 816.9L919.6 807.4L921.1 801.3L922.5 809.9L924.0 816.9L925.3 830.4L926.6 849.5L927.9 862.9L929.4 844.0L930.9 828.7L932.3 844.1L933.8 856.0L935.3 839.8L936.7 826.7L938.2 840.1L939.7 850.2L941.1 832.0L942.6 816.9L944.1 807.6L945.5 795.4L947.0 803.2L948.5 813.0L949.9 805.1L951.4 795.4L952.9 802.6L954.3 813.0L955.8 806.7L957.3 797.4L958.7 801.5L960.2 807.1L961.7 815.5L963.1 820.8L965.1 781.7L966.6 771.4L968.0 764.1L969.5 777.2L971.0 787.6L972.4 790.8L973.9 797.4L975.4 792.4L976.8 783.7L978.8 801.3L980.7 771.9L982.2 794.2L983.7 818.9L985.1 806.0L986.6 789.5L988.1 794.1L989.5 801.3L991.0 794.9L992.5 785.6L993.9 790.3L995.4 797.4L996.9 789.5L998.3 777.8L999.8 774.6L1001.3 773.9L1002.7 766.0L1004.2 754.3L1005.7 742.4L1007.1 732.8L1008.6 740.3L1010.1 744.5L1011.5 743.6L1013.0 746.5L1014.3 759.2L1015.6 767.5L1016.9 779.8L1018.4 773.7L1019.9 766.1L1021.3 770.6L1022.8 777.8L1024.1 775.1L1025.4 768.2L1026.7 766.1L1028.2 766.8L1029.6 764.1L1031.1 775.8L1032.6 791.5L1034.0 778.1L1035.5 762.2L1036.8 764.8L1038.1 771.4L1039.4 773.9L1040.7 768.0L1042.0 766.2L1043.3 761.2L1044.8 770.5L1046.3 781.7L1047.6 786.5L1048.9 788.4L1050.2 793.4L1051.6 788.7L1053.1 781.7L1054.6 791.5L1056.0 805.2L1057.5 815.9L1059.0 824.7L1060.3 813.0L1061.6 806.3L1062.9 795.4L1064.4 805.2L1065.8 816.9L1067.3 831.6L1068.8 842.3L1070.7 863.9L1072.2 854.2L1073.6 846.3L1075.1 838.3L1076.6 828.7L1078.0 820.0L1079.5 813.0L1081.0 809.9L1082.4 805.2L1083.9 822.6L1085.4 842.3L1086.8 830.6L1088.3 816.9L1089.8 826.8L1091.2 838.4L1092.7 827.4L1094.2 815.0L1095.6 819.2L1097.1 826.7L1098.6 820.6L1100.0 813.0L1101.7 815.9L1103.3 822.3L1104.9 824.7L1106.2 813.1L1107.5 806.7L1108.9 795.4L1110.3 807.5L1111.8 822.8L1113.3 816.6L1114.7 807.1L1116.0 810.6L1117.3 819.4L1118.6 822.8L1119.9 816.0L1121.2 811.8L1122.5 805.2L1124.0 817.4L1125.5 832.6L1127.4 856.0L1128.9 845.7L1130.4 832.6L1131.7 820.1L1133.0 812.1L1134.3 799.3L1135.6 797.1L1136.9 798.3L1138.2 795.4L1139.5 798.1L1140.8 804.5L1142.1 807.1L1143.4 791.1L1144.7 778.2L1146.0 762.2L1147.5 776.3L1148.9 793.4L1150.9 813.0L1152.4 805.6L1153.8 795.4L1155.3 788.6L1156.8 785.6L1158.4 782.8L1160.0 776.2L1161.7 773.9L1163.1 764.9L1164.6 754.3L1166.6 743.6L1168.0 749.4L1169.5 758.2L1170.8 763.7L1172.1 765.6L1173.4 771.9L1174.7 776.5L1176.0 776.1L1177.3 779.8L1178.8 788.4L1180.2 793.4L1181.7 798.3L1183.2 805.2L1184.6 799.4L1186.1 791.5L1187.4 793.3L1188.7 798.1L1190.0 799.5L1191.5 802.6L1192.9 807.4L1194.4 822.7L1195.9 834.7L1197.2 824.2L1198.5 817.7L1199.8 807.4L1201.2 814.5L1202.7 825.0L1204.0 817.5L1205.3 806.9L1206.6 799.5L1208.1 795.8L1209.6 789.8L1211.0 812.5L1212.5 836.7L1214.0 823.9L1215.4 807.4L1216.9 814.4L1218.4 823.0L1219.8 815.0L1221.3 805.4L1222.6 814.8L1223.9 829.3L1225.2 838.7L1226.7 825.6L1228.1 815.2L1229.6 812.5L1231.1 807.4L1232.5 824.1L1234.0 842.6L1235.3 845.9L1236.6 846.4L1237.9 850.4L1239.6 857.3L1241.2 862.1L1242.5 845.6L1243.8 830.8L1245.3 840.5L1246.7 846.5L1248.2 830.1L1249.7 815.2L1251.1 807.6L1252.6 797.6L1254.1 816.4L1255.5 838.7L1257.0 828.6L1258.5 815.2L1260.4 797.6L1261.7 803.9L1263.0 813.6L1264.3 819.1L1265.6 826.8L1266.9 838.9L1268.2 846.5L1270.0 854.8L1271.8 867.0L1274.1 842.6L1275.6 851.2L1277.0 856.3L1278.5 830.3L1280.0 807.4L1281.4 807.1L1282.9 803.4L1284.4 813.8L1285.8 826.9L1287.8 811.3L1289.1 811.4L1290.4 806.9L1291.7 807.4L1293.2 828.4L1294.6 846.5L1296.1 829.6L1297.6 815.2L1298.9 812.6L1300.2 806.9L1301.5 805.4L1302.8 817.6L1304.1 826.3L1305.4 838.7L1306.9 833.9L1308.3 826.9L1309.6 822.9L1310.9 822.9L1312.2 819.1L1313.6 821.2L1314.9 828.4L1316.2 830.8L1317.6 821.6L1319.1 815.2L1320.6 806.1L1322.0 793.7L1323.3 800.9L1324.6 812.0L1325.9 819.1L1327.4 801.8L1328.9 787.8L1330.3 807.0L1331.8 823.0L1333.3 812.5L1334.7 805.4L1336.0 801.4L1337.4 792.2L1338.7 787.8L1340.1 802.9L1341.6 815.2L1343.1 806.4L1344.5 799.5L1345.8 807.1L1347.1 811.3L1348.4 819.1L1349.9 809.7L1351.4 797.6L1352.8 804.5L1354.3 815.2L1355.6 812.0L1356.9 806.2L1358.2 803.4L1359.7 812.9L1361.1 819.1L1362.5 811.3L1363.8 807.9L1365.1 799.5L1366.5 810.4L1368.0 823.0L1369.5 838.4L1370.9 850.4L1372.4 862.8L1373.9 877.8L1375.8 889.5L1377.3 874.3L1378.8 856.3L1380.2 838.9L1381.7 823.0L1383.2 816.4L1384.6 807.4L1386.1 801.7L1387.6 799.5L1389.5 787.8L1391.0 805.1L1392.4 819.1L1393.9 809.8L1395.4 803.4L1396.8 814.5L1398.3 823.0L1399.8 816.4L1401.2 811.3L1402.6 815.5L1403.9 815.2L1405.2 819.1L1406.5 827.3L1407.8 830.6L1409.1 838.7L1410.4 848.4L1411.7 853.8L1413.0 864.1L1414.4 855.2L1415.9 844.5L1417.4 845.5L1418.9 850.4L1420.2 840.8L1421.5 827.6L1422.8 819.1L1424.2 815.7L1425.7 809.3L1427.2 819.8L1428.6 832.8L1430.1 833.7L1431.6 830.8L1432.9 822.3L1434.2 817.8L1435.5 809.3L1436.9 820.3L1438.4 832.8L1439.9 830.6L1441.3 825.0L1442.8 812.7L1444.3 803.4L1445.6 816.2L1446.9 826.1L1448.2 838.7L1449.5 832.1L1450.8 821.1L1452.1 815.2L1453.6 807.7L1455.0 796.6L1456.5 804.6L1458.0 815.2L1459.4 827.7L1460.9 838.7L1462.4 823.2L1463.8 811.3L1465.1 817.5L1466.4 820.1L1467.8 826.9L1469.1 821.7L1470.4 811.9L1471.7 807.4L1473.0 806.9L1474.3 803.0L1475.6 803.4L1477.0 797.3L1478.5 787.8L1480.0 770.5L1481.4 754.5L1482.9 762.8L1484.4 768.2L1485.8 775.0L1487.3 783.9L1488.8 776.7L1490.2 766.3L1491.7 771.2L1493.2 780.0L1494.5 777.0L1495.8 769.5L1497.1 766.3L1498.4 773.0L1499.7 775.7L1501.0 781.9L1502.3 778.7L1503.6 772.0L1504.9 768.2L1506.4 762.1L1507.8 752.6L1510.1 754.5L1511.6 760.6L1513.2 768.2L1514.7 756.9L1516.1 742.8L1517.6 743.8L1519.1 746.7L1520.5 760.9L1522.0 772.2L1523.5 762.6L1524.9 754.5L1526.4 750.4L1527.9 744.8L1529.8 725.2L1531.3 712.9L1532.8 703.7L1534.7 719.3L1536.2 714.6L1537.7 706.6L1539.6 723.3L1541.1 724.3L1542.5 729.1L1543.5 730.1" stroke="#e377c2"/>
</g>
<path d="M275.40 935.5v14.6M529.00 935.5v14.6M782.60 935.5v14.6M1036.20 935.5v14.6M1289.80 935.5v14.6M1543.40 935.5v14.6M212.5 247.20h-14.6M212.5 673.90h-14.6" stroke="#000" stroke-width="3.33" fill="none"/>
<path d="M212.00 935.5v8.3M338.80 935.5v8.3M402.20 935.5v8.3M465.60 935.5v8.3M592.40 935.5v8.3M655.80 935.5v8.3M719.20 935.5v8.3M846.00 935.5v8.3M909.40 935.5v8.3M972.80 935.5v8.3M1099.60 935.5v8.3M1163.00 935.5v8.3M1226.40 935.5v8.3M1353.20 935.5v8.3M1416.60 935.5v8.3M1480.00 935.5v8.3M1606.80 935.5v8.3M212.5 43.61h-8.3M212.5 118.75h-8.3M212.5 266.72h-8.3M212.5 288.55h-8.3M212.5 313.30h-8.3M212.5 341.86h-8.3M212.5 375.65h-8.3M212.5 417.00h-8.3M212.5 470.31h-8.3M212.5 545.45h-8.3M212.5 693.42h-8.3M212.5 715.25h-8.3M212.5 740.00h-8.3M212.5 768.56h-8.3M212.5 802.35h-8.3M212.5 843.70h-8.3M212.5 897.01h-8.3" stroke="#000" stroke-width="2.5" fill="none"/>
<rect x="212.5" y="29.5" width="1395.0" height="906.0" fill="none" stroke="#000" stroke-width="3.33"/>
<text transform="translate(262.79,996.90) scale(1.0413,1)" font-size="43.44" >0</text>
<text transform="translate(488.10,996.90) scale(1.1029,1)" font-size="43.44" >200</text>
<text transform="translate(743.85,996.90) scale(1.0712,1)" font-size="43.44" >400</text>
<text transform="translate(996.35,996.90) scale(1.0840,1)" font-size="43.44" >600</text>
<text transform="translate(1250.70,996.90) scale(1.0846,1)" font-size="43.44" >800</text>
<text transform="translate(1491.28,996.90) scale(1.0801,1)" font-size="43.44" >1000</text>
<text transform="translate(809.25,1052.80) scale(1.1098,1)" font-size="43.35" >Iterations</text>
<text transform="translate(111.55,263.20) scale(1.0628,1)" font-size="43.30" >10</text>
<text transform="translate(164.74,247.00) scale(1.0484,1)" font-size="29.96" >0</text>
<text transform="translate(88.53,689.20) scale(1.0662,1)" font-size="43.44" >10</text>
<rect x="144.00" y="663.50" width="18.00" height="2.40" fill="#000"/>
<text transform="translate(165.98,673.80) scale(0.9925,1)" font-size="29.82" >1</text>
<g transform="translate(60.1,727.5) rotate(-90)"><text transform="translate(-3.35,0.00) scale(0.9203,1)" font-size="44.07" >MC</text><text transform="translate(74.67,0.00) scale(1.0826,1)" font-size="44.07" >approximation</text><text transform="translate(387.82,0.00) scale(1.1080,1)" font-size="44.07" >of</text><text transform="translate(441.97,0.00) scale(0.9424,1)" font-size="44.07" >KL</text></g>
<rect x="1104.1" y="50.2" width="482.1" height="451.8" rx="7" fill="#fff" fill-opacity="0.8" stroke="#ccc" stroke-opacity="0.8" stroke-width="4"/>
<path d="M1117.3 85.0H1207" stroke="#1f77b4" stroke-width="6.25" fill="none"/>
<path d="M1117.3 146.9H1207" stroke="#ff7f0e" stroke-width="6.25" fill="none"/>
<path d="M1117.3 212.8H1207" stroke="#2ca02c" stroke-width="6.25" fill="none"/>
<path d="M1117.3 279.8H1207" stroke="#d62728" stroke-width="6.25" fill="none"/>
<path d="M1117.3 340.2H1207" stroke="#9467bd" stroke-width="6.25" fill="none"/>
<path d="M1117.3 400.9H1207" stroke="#8c564b" stroke-width="6.25" fill="none"/>
<path d="M1117.3 461.6H1207" stroke="#e377c2" stroke-width="6.25" fill="none"/>
<text transform="translate(1238.49,100.10) scale(0.9806,1)" font-size="43.20" >ASVGD,</text>
<text transform="translate(1412.47,100.10) scale(0.9610,1)" font-size="43.20" font-style="italic">A</text>
<rect x="1452.00" y="82.30" width="26.80" height="3.20" fill="#000"/><rect x="1452.00" y="90.30" width="26.80" height="3.20" fill="#000"/>
<text transform="translate(1491.56,100.10) scale(1.1269,1)" font-size="42.62" >id</text>
<text transform="translate(1530.24,106.00) scale(1.0567,1)" font-size="29.53" >2</text>
<text transform="translate(1238.49,162.20) scale(0.9827,1)" font-size="43.20" >SVGD,</text>
<text transform="translate(1383.82,162.20) scale(0.9364,1)" font-size="43.20" font-style="italic">A</text>
<rect x="1423.90" y="144.40" width="26.80" height="3.20" fill="#000"/><rect x="1423.90" y="152.40" width="26.80" height="3.20" fill="#000"/>
<text transform="translate(1463.16,162.20) scale(1.1269,1)" font-size="42.62" >id</text>
<text transform="translate(1501.54,168.10) scale(1.0567,1)" font-size="29.53" >2</text>
<text transform="translate(1238.49,228.10) scale(0.9806,1)" font-size="43.20" >ASVGD,</text>
<text transform="translate(1412.47,228.10) scale(0.9610,1)" font-size="43.20" font-style="italic">A</text>
<rect x="1452.00" y="210.30" width="26.80" height="3.20" fill="#000"/><rect x="1452.00" y="218.30" width="26.80" height="3.20" fill="#000"/>
<text transform="translate(1490.06,228.10) scale(0.9925,1)" font-size="43.20" font-style="italic">Q</text>
<rect x="1529.90" y="202.20" width="18.60" height="2.60" fill="#000"/>
<text transform="translate(1552.88,212.90) scale(0.9735,1)" font-size="30.40" >1</text>
<text transform="translate(1238.49,293.80) scale(0.9827,1)" font-size="43.20" >SVGD,</text>
<text transform="translate(1383.82,293.80) scale(0.9364,1)" font-size="43.20" font-style="italic">A</text>
<rect x="1423.90" y="276.00" width="26.80" height="3.20" fill="#000"/><rect x="1423.90" y="284.00" width="26.80" height="3.20" fill="#000"/>
<text transform="translate(1461.76,293.80) scale(0.9892,1)" font-size="43.20" font-style="italic">Q</text>
<rect x="1501.40" y="267.90" width="18.60" height="2.60" fill="#000"/>
<text transform="translate(1524.38,278.60) scale(0.9735,1)" font-size="30.40" >1</text>
<text transform="translate(1237.12,355.60) scale(0.9793,1)" font-size="43.20" >ULA</text>
<text transform="translate(1237.59,416.70) scale(0.9877,1)" font-size="43.20" >ULD</text>
<text transform="translate(1237.40,477.90) scale(0.9821,1)" font-size="43.20" >MALA</text>
</svg></body></html>
